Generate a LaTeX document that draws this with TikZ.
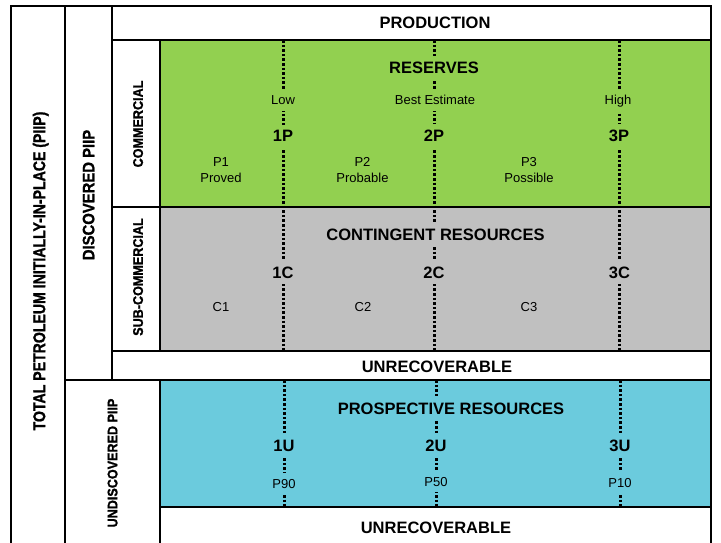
\documentclass[tikz,border=0pt]{standalone}
\usepackage{fontspec}
\setmainfont{Liberation Sans}
\newfontfamily\vfontA[FakeStretch=0.83,FakeBold=1.2]{Liberation Sans Bold}
\newfontfamily\vfontB[FakeStretch=0.9,FakeBold=1.2]{Liberation Sans Bold}
\definecolor{resgreen}{HTML}{92D050}
\definecolor{congray}{HTML}{C0C0C0}
\definecolor{problue}{HTML}{6BCBDD}
\begin{document}
\begin{tikzpicture}[x=1pt,y=-1pt,
  frame/.style={line width=1.8pt, line cap=rect},
  dotline/.style={line width=3pt, dash pattern=on 2.6pt off 2pt},
  head/.style={font=\fontsize{16.5}{19}\selectfont\bfseries, anchor=base, inner xsep=2pt, inner ysep=6pt},
  small/.style={font=\fontsize{13}{15}\selectfont, anchor=base, inner xsep=2pt, inner ysep=6pt},
  vlabA/.style={font=\vfontA\fontsize{17}{19}\selectfont, rotate=90, anchor=center, text depth=0pt, inner sep=0pt},
  vlabB/.style={font=\vfontB\fontsize{16.5}{19}\selectfont, rotate=90, anchor=center, text depth=0pt, inner sep=0pt},
  vlabC/.style={font=\vfontB\fontsize{14}{16}\selectfont, rotate=90, anchor=center, text depth=0pt, inner sep=0pt},
]
\useasboundingbox (0,0) rectangle (721,543);
% fills
\fill[resgreen] (160,40) rectangle (711,207);
\fill[congray] (160,207) rectangle (711,351);
\fill[problue] (160,380) rectangle (711,507);
% dotted divisions
\foreach \x in {283,434,619} \draw[dotline] (\x,40) -- (\x,351);
\foreach \x in {284,436,620} \draw[dotline] (\x,380) -- (\x,507);
% frame lines
\draw[frame] (11,543) -- (11,6) -- (711,6) -- (711,543);
\draw[frame] (65,6) -- (65,543);
\draw[frame] (112,6) -- (112,380);
\draw[frame] (112,40) -- (711,40);
\draw[frame] (160,40) -- (160,351);
\draw[frame] (160,380) -- (160,543);
\draw[frame] (112,207) -- (711,207);
\draw[frame] (112,351) -- (711,351);
\draw[frame] (65,380) -- (711,380);
\draw[frame] (160,507) -- (711,507);
% vertical labels
\node[vlabA] (total) at (39,271) {TOTAL PETROLEUM INITIALLY-IN-PLACE (PIIP)};
\node[vlabB] (disc) at (88.5,195) {DISCOVERED PIIP};
\node[vlabC] (comm) at (138,124) {COMMERCIAL};
\node[vlabC] (subc) at (138,277) {SUB-COMMERCIAL};
\node[vlabC] (undisc) at (112.5,463) {UNDISCOVERED PIIP};
% production
\node[head] (prod) at (435,29) {PRODUCTION};
% reserves
\node[head, fill=resgreen] (res) at (434,74) {RESERVES};
\node[small, fill=resgreen] (low) at (283,104.5) {Low};
\node[small, fill=resgreen] (best) at (435,104.5) {Best Estimate};
\node[small, fill=resgreen] (high) at (618,104.5) {High};
\node[head, fill=resgreen] (p1x) at (283,142) {1P};
\node[head, fill=resgreen] (p2x) at (434,142) {2P};
\node[head, fill=resgreen] (p3x) at (619,142) {3P};
\node[small] (p1a) at (221,166) {P1};
\node[small] (p1b) at (221,182) {Proved};
\node[small] (p2a) at (362.5,166) {P2};
\node[small] (p2b) at (362.5,182) {Probable};
\node[small] (p3a) at (529,166) {P3};
\node[small] (p3b) at (529,182) {Possible};
% contingent
\node[head, fill=congray] (cont) at (435.5,240) {CONTINGENT RESOURCES};
\node[head, fill=congray] (c1x) at (283,278) {1C};
\node[head, fill=congray] (c2x) at (434,278) {2C};
\node[head, fill=congray] (c3x) at (619.5,278) {3C};
\node[small] (c1) at (221,311) {C1};
\node[small] (c2) at (363,311) {C2};
\node[small] (c3) at (529,311) {C3};
\node[head] (unrec1) at (437,372) {UNRECOVERABLE};
% prospective
\node[head, fill=problue] (pros) at (451,414) {PROSPECTIVE RESOURCES};
\node[head, fill=problue] (u1x) at (284,451) {1U};
\node[head, fill=problue] (u2x) at (436,451) {2U};
\node[head, fill=problue] (u3x) at (620,451) {3U};
\node[small, fill=problue] (p90) at (284,488) {P90};
\node[small, fill=problue] (p50) at (436,486) {P50};
\node[small, fill=problue] (p10) at (620,487) {P10};
\node[head] (unrec2) at (436,533) {UNRECOVERABLE};
\end{tikzpicture}
\end{document}
